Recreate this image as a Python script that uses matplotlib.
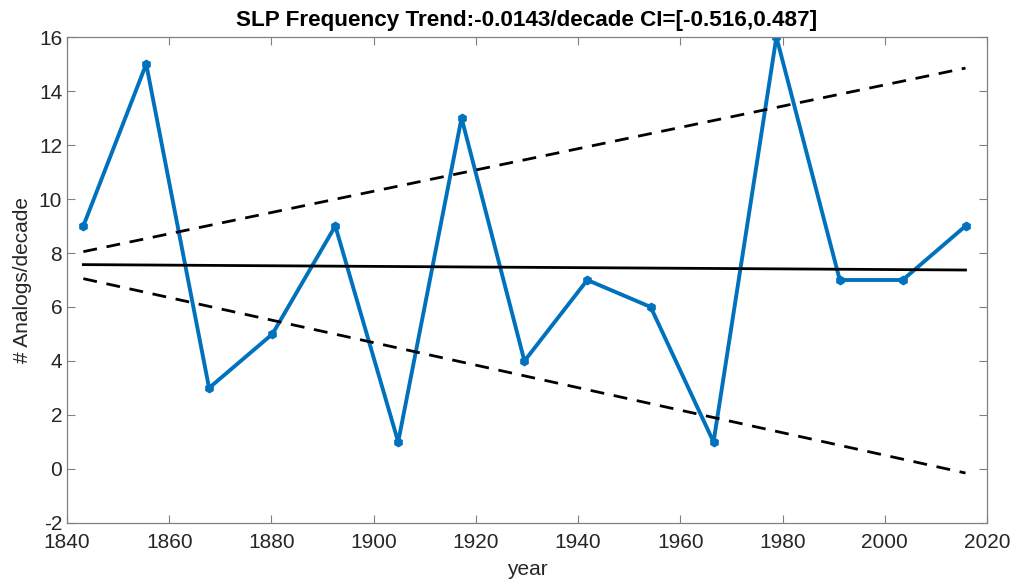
import matplotlib

matplotlib.use("Agg")

import matplotlib.pyplot as plt
import numpy as np

years = [1843.2, 1855.5, 1867.8, 1880.2, 1892.5, 1904.8, 1917.2, 1929.5,
         1941.8, 1954.2, 1966.5, 1978.8, 1991.2, 2003.5, 2015.8]
counts = [9, 15, 3, 5, 9, 1, 13, 4, 7, 6, 1, 16, 7, 7, 9]

trend_ends = [7.57, 7.37]
upper_ends = [8.05, 14.85]
lower_ends = [7.05, -0.15]

plt.rcParams["font.family"] = ["Liberation Sans", "DejaVu Sans"]
plt.rcParams["axes.unicode_minus"] = False

fig = plt.figure(figsize=(10.15, 5.84), dpi=100)
ax = fig.add_axes([0.066, 0.1045, 0.9064, 0.8321])

ends = [years[0], years[-1]]
ax.plot(years, counts, color="#0072BD", linewidth=2.8, marker="h", markersize=6)
ax.plot(ends, trend_ends, color="black", linewidth=2.0)
ax.plot(ends, upper_ends, color="black", linewidth=2.0, linestyle=(0, (5, 3.5)))
ax.plot(ends, lower_ends, color="black", linewidth=2.0, linestyle=(0, (5, 3.5)))

ax.set_xlim(1840, 2020)
ax.set_ylim(-2, 16)
ax.set_xticks(np.arange(1840, 2021, 20))
ax.set_yticks(np.arange(-2, 17, 2))
ax.tick_params(direction="in", top=True, right=True, length=6, width=0.8,
               colors="#808080", labelcolor="#262626", labelsize=15)
ax.tick_params(axis="x", pad=7)
for spine in ax.spines.values():
    spine.set_color("#808080")
    spine.set_linewidth(0.9)

ax.set_xlabel("year", fontsize=15, color="#262626", labelpad=6)
ax.set_ylabel("# Analogs/decade", fontsize=15, color="#262626", labelpad=5)
ax.set_title("SLP Frequency Trend:-0.0143/decade CI=[-0.516,0.487]",
             fontsize=16.2, fontweight="bold", color="black", pad=8)

fig.savefig("out.png", dpi=100)
